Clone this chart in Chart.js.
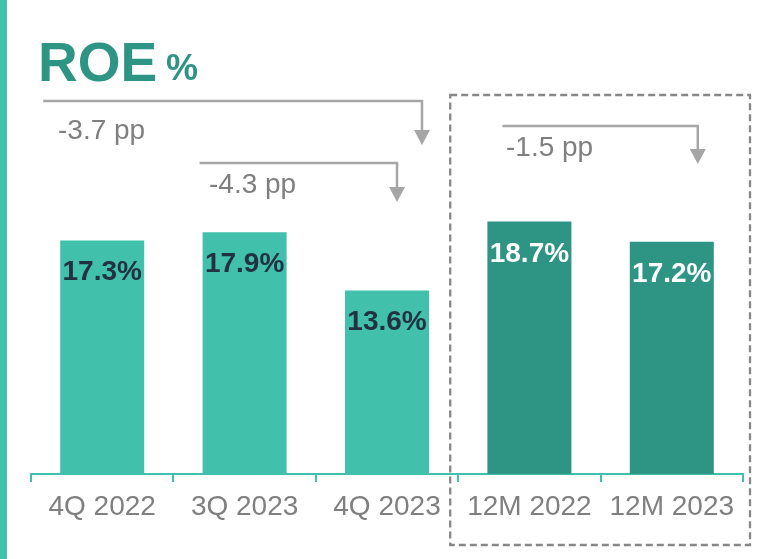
<!DOCTYPE html>
<html>
<head>
<meta charset="utf-8">
<script src="https://cdn.jsdelivr.net/npm/chart.js@4.4.1/dist/chart.umd.min.js"></script>
<style>
    html, body { margin: 0; padding: 0; background: #fff; }
    #wrap { width: 768px; height: 559px; }
</style>
</head>
<body>
<div id="wrap"><canvas id="roe-chart" width="768" height="559"></canvas></div>
<script>
const periodLabels = ['4Q 2022', '3Q 2023', '4Q 2023', '12M 2022', '12M 2023'];
const roeValues = [17.3, 17.9, 13.6, 18.7, 17.2];
const valueLabels = ['17.3%', '17.9%', '13.6%', '18.7%', '17.2%'];
const barColors = ['#41c1ab', '#41c1ab', '#41c1ab', '#2e9484', '#2e9484'];
const labelColors = ['#233240', '#233240', '#233240', '#ffffff', '#ffffff'];
const bridgeFrom = [0, 1, 3];
const bridgeTo = [2, 2, 4];
const bridgeText = ['-3.7 pp', '-4.3 pp', '-1.5 pp'];

const FONT = "'Liberation Sans', Arial, sans-serif";

const decorPlugin = {
    id: 'decor',
    beforeDraw(chart) {
        const ctx = chart.ctx;
        ctx.save();
        // left accent stripe
        ctx.fillStyle = '#41c1ab';
        ctx.fillRect(0, 0, 7, chart.height);
        // title
        ctx.fillStyle = '#2e9484';
        ctx.textBaseline = 'alphabetic';
        ctx.textAlign = 'left';
        ctx.font = 'bold 55px ' + FONT;
        ctx.fillText('ROE', 38, 81);
        ctx.font = 'bold 36px ' + FONT;
        ctx.fillText('%', 166, 80);
        ctx.restore();
    },
    afterDraw(chart) {
        const ctx = chart.ctx;
        const x = chart.scales.x;
        const area = chart.chartArea;
        const meta = chart.getDatasetMeta(0);
        ctx.save();

        // value labels inside bars
        ctx.font = 'bold 28px ' + FONT;
        ctx.textAlign = 'center';
        ctx.textBaseline = 'alphabetic';
        meta.data.forEach((bar, i) => {
            ctx.fillStyle = labelColors[i];
            ctx.fillText(valueLabels[i], bar.x, bar.y + 40);
        });

        // bridge arrows
        const lineY = [101, 163, 126];
        const tipY = [145, 202, 164];
        const startOff = [-59, -45, -27];
        const endOff = [35, 10, 26];
        const textX = [58, 209, 506];
        const textY = [139, 193, 156];
        ctx.strokeStyle = '#a6a6a6';
        ctx.fillStyle = '#a6a6a6';
        ctx.lineWidth = 2.5;
        bridgeFrom.forEach((f, i) => {
            const x0 = x.getPixelForValue(f) + startOff[i];
            const x1 = x.getPixelForValue(bridgeTo[i]) + endOff[i];
            ctx.beginPath();
            ctx.moveTo(x0, lineY[i]);
            ctx.lineTo(x1, lineY[i]);
            ctx.lineTo(x1, tipY[i] - 14);
            ctx.stroke();
            ctx.beginPath();
            ctx.moveTo(x1 - 8, tipY[i] - 15);
            ctx.lineTo(x1 + 8, tipY[i] - 15);
            ctx.lineTo(x1, tipY[i]);
            ctx.closePath();
            ctx.fill();
        });
        ctx.fillStyle = '#7f7f7f';
        ctx.font = '28px ' + FONT;
        ctx.textAlign = 'left';
        bridgeText.forEach((t, i) => ctx.fillText(t, textX[i], textY[i]));

        // dashed box around the full-year bars
        const boxL = (x.getPixelForValue(2) + x.getPixelForValue(3)) / 2 - 8;
        const boxR = area.right + 7;
        ctx.setLineDash([7, 4]);
        ctx.lineWidth = 2.3;
        ctx.strokeStyle = '#878787';
        ctx.strokeRect(boxL, 95, boxR - boxL, 450);
        ctx.restore();
    }
};

const ctx = document.getElementById('roe-chart').getContext('2d');
new Chart(ctx, {
    type: 'bar',
    data: {
        labels: periodLabels,
        datasets: [{
            data: roeValues,
            backgroundColor: barColors,
            borderWidth: 0,
            categoryPercentage: 1,
            barPercentage: 0.59
        }]
    },
    options: {
        responsive: false,
        animation: false,
        layout: { padding: { top: 69, left: 31, right: 25, bottom: 0 } },
        scales: {
            y: { display: false, min: 0, max: 30 },
            x: {
                afterFit: (scale) => { scale.height = 85; },
                border: { display: true, color: '#41c1ab', width: 2 },
                grid: {
                    drawOnChartArea: false,
                    drawTicks: true,
                    tickLength: 8,
                    color: '#41c1ab',
                    lineWidth: 2
                },
                ticks: {
                    color: '#7f7f7f',
                    padding: 8,
                    font: { family: FONT, size: 28 }
                }
            }
        },
        plugins: {
            legend: { display: false },
            tooltip: { enabled: false }
        }
    },
    plugins: [decorPlugin]
});
</script>
</body>
</html>
